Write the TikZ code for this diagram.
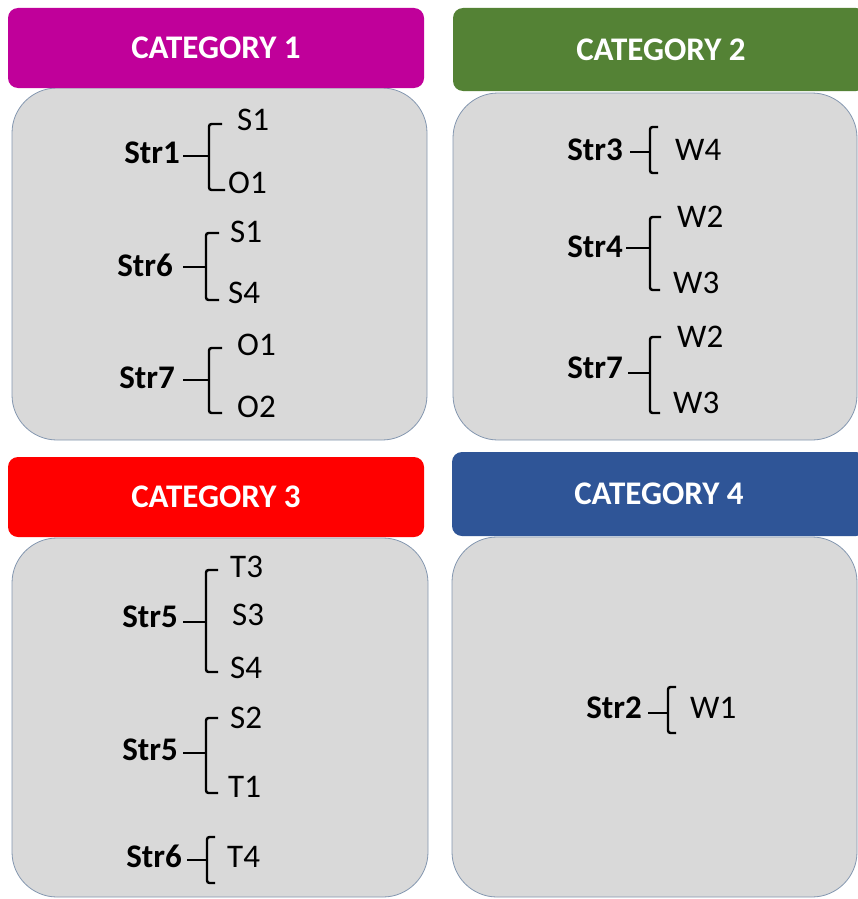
\documentclass[tikz,border=0pt]{standalone}
\usepackage{fontspec}
\setmainfont{Carlito}
\definecolor{catone}{HTML}{C0009A}
\definecolor{cattwo}{HTML}{548235}
\definecolor{catthree}{HTML}{FF0000}
\definecolor{catfour}{HTML}{2F5597}
\definecolor{boxgray}{HTML}{D9D9D9}
\definecolor{edgeblue}{HTML}{8497B0}
\begin{document}
\begin{tikzpicture}[x=1pt,y=-1pt,
  hdr/.style={rounded corners=10pt, inner sep=0pt, text=white,
    font=\fontsize{33}{40}\selectfont\bfseries},
  body/.style={rounded corners=45pt, fill=boxgray, draw=edgeblue, line width=0.8pt},
  lbl/.style={inner sep=0pt, anchor=base east, font=\fontsize{33}{40}\selectfont\bfseries},
  itm/.style={inner sep=0pt, anchor=base west, font=\fontsize{33}{40}\selectfont},
  brk/.style={line width=2.4pt, rounded corners=2.5pt}]
\useasboundingbox (0,0) rectangle (858,899);
\fill[white] (0,0) rectangle (858,899);

% ---------- boxes ----------
\draw[body] (12,88) rectangle (427,440);
\draw[body] (453,93) rectangle (857,440);
\draw[body] (12,538) rectangle (428,897);
\draw[body] (452,537) rectangle (857,897);

\fill[catone, rounded corners=10pt] (8,8) rectangle (424,88);
\fill[cattwo, rounded corners=10pt] (453,8) rectangle (866,91);
\fill[catthree, rounded corners=10pt] (8,457) rectangle (424,537);
\fill[catfour, rounded corners=10pt] (452,452) rectangle (866,536);

\node[hdr] (h1) at (216,48) {CATEGORY 1};
\node[hdr] (h2) at (661,50) {CATEGORY 2};
\node[hdr] (h3) at (216,497) {CATEGORY 3};
\node[hdr] (h4) at (659,494) {CATEGORY 4};

% ---------- Category 1 ----------
\node[lbl] (a1) at (180,163) {Str1};
\node[itm] (a1t) at (237,130) {S1};
\node[itm] (a1b) at (228,193) {O1};
\coordinate (a1j) at (209,156);
\draw[brk] ([xshift=3pt]a1.east |- a1j) -- (a1j);
\draw[brk] (222,124) -- (209,124) -- (209,190) -- (225,190);

\node[lbl] (a2) at (173,276) {Str6};
\node[itm] (a2t) at (230,242) {S1};
\node[itm] (a2b) at (228,303) {S4};
\coordinate (a2j) at (206,267);
\draw[brk] ([xshift=10pt]a2.east |- a2j) -- (a2j);
\draw[brk] (219,233) -- (206,233) -- (206,300) -- (219,300);

\node[lbl] (a3) at (175,388) {Str7};
\node[itm] (a3t) at (237,355) {O1};
\node[itm] (a3b) at (237,417) {O2};
\coordinate (a3j) at (209,380);
\draw[brk] ([xshift=8pt]a3.east |- a3j) -- (a3j);
\draw[brk] (222,348) -- (209,348) -- (209,413) -- (222,413);

% ---------- Category 2 ----------
\node[lbl] (b1) at (623,160) {Str3};
\node[itm] (b1t) at (675,160) {W4};
\coordinate (b1j) at (650,152);
\draw[brk] ([xshift=7pt]b1.east |- b1j) -- (b1j);
\draw[brk] (658,127) -- (650,127) -- (650,173) -- (658,173);

\node[lbl] (b2) at (623,257) {Str4};
\node[itm] (b2t) at (677,227) {W2};
\node[itm] (b2b) at (673,293) {W3};
\coordinate (b2j) at (650,248);
\draw[brk] ([xshift=3pt]b2.east |- b2j) -- (b2j);
\draw[brk] (661,217) -- (650,217) -- (650,290) -- (660,290);

\node[lbl] (b3) at (623,378) {Str7};
\node[itm] (b3t) at (677,347) {W2};
\node[itm] (b3b) at (673,413) {W3};
\coordinate (b3j) at (650,373);
\draw[brk] ([xshift=5pt]b3.east |- b3j) -- (b3j);
\draw[brk] (661,337) -- (650,337) -- (650,413) -- (660,413);

% ---------- Category 3 ----------
\node[lbl] (c1) at (178,627) {Str5};
\node[itm] (c1t) at (230,577) {T3};
\node[itm] (c1m) at (232,625) {S3};
\node[itm] (c1b) at (230,678) {S4};
\coordinate (c1j) at (206,622);
\draw[brk] ([xshift=5pt]c1.east |- c1j) -- (c1j);
\draw[brk] (218,570) -- (206,570) -- (206,672) -- (218,672);

\node[lbl] (c2) at (178,760) {Str5};
\node[itm] (c2t) at (230,728) {S2};
\node[itm] (c2b) at (228,797) {T1};
\coordinate (c2j) at (206,753);
\draw[brk] ([xshift=5pt]c2.east |- c2j) -- (c2j);
\draw[brk] (218,718) -- (206,718) -- (206,793) -- (218,793);

\node[lbl] (c3) at (182,867) {Str6};
\node[itm] (c3t) at (227,867) {T4};
\coordinate (c3j) at (207,860);
\draw[brk] ([xshift=5pt]c3.east |- c3j) -- (c3j);
\draw[brk] (215,837) -- (207,837) -- (207,883) -- (215,883);

% ---------- Category 4 ----------
\node[lbl] (d1) at (642,718) {Str2};
\node[itm] (d1t) at (690,718) {W1};
\coordinate (d1j) at (668,713);
\draw[brk] ([xshift=6pt]d1.east |- d1j) -- (d1j);
\draw[brk] (676,687) -- (668,687) -- (668,733) -- (676,733);
\end{tikzpicture}
\end{document}
